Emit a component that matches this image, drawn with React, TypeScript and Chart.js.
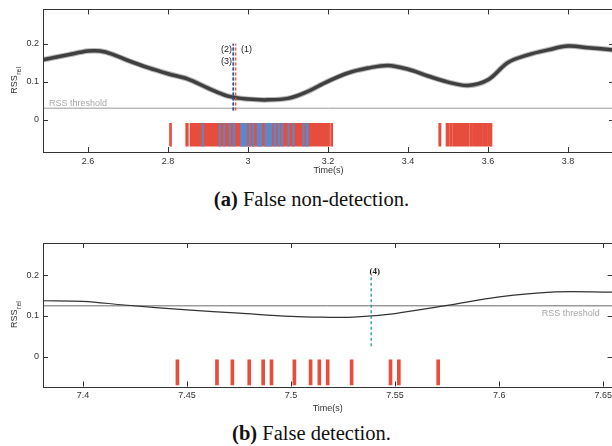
import React, { useEffect, useRef } from "react";
import { Chart, registerables } from "chart.js";
Chart.register(...registerables);

const SANS = "'Liberation Sans', Arial, Helvetica, sans-serif";
const SERIF = "'Liberation Serif', 'Times New Roman', serif";

// ---------- (a) False non-detection ----------
const TOP_TIME = [2.4875, 2.55, 2.6, 2.63, 2.66, 2.7, 2.75, 2.8, 2.85, 2.9, 2.95, 3.0, 3.05, 3.1, 3.1425, 3.2, 3.25, 3.3, 3.35, 3.4, 3.45, 3.5, 3.55, 3.6, 3.65, 3.7, 3.75, 3.8, 3.85, 3.915];
const TOP_RSS = [0.158, 0.171, 0.181, 0.181, 0.173, 0.156, 0.137, 0.121, 0.107, 0.083, 0.062, 0.054, 0.052, 0.056, 0.071, 0.101, 0.123, 0.136, 0.143, 0.133, 0.115, 0.099, 0.09, 0.105, 0.151, 0.171, 0.184, 0.194, 0.19, 0.184];
const TOP_THRESHOLD = 0.03;
const TOP_RED_SPANS: [number, number][] = [
  [2.8038, 2.8088], [2.8443, 2.8508], [2.855, 3.204], [3.2065, 3.2118],
  [3.4768, 3.4825], [3.495, 3.5025], [3.504, 3.511], [3.5125, 3.5193], [3.5208, 3.5528],
  [3.5543, 3.5595], [3.561, 3.5845], [3.586, 3.597], [3.5985, 3.61],
];
const TOP_BLUE_SPANS: [number, number][] = [
  [2.885, 2.8888], [2.9275, 2.9313], [2.9388, 2.9425], [2.9525, 2.9563], [2.9625, 2.9675],
  [2.9813, 2.9975], [3.0025, 3.0063], [3.0113, 3.015], [3.0225, 3.035], [3.0425, 3.06],
  [3.065, 3.07], [3.075, 3.08], [3.0838, 3.0875], [3.0993, 3.1033], [3.1118, 3.1158],
  [3.1368, 3.1408], [3.145, 3.1508],
];
const TOP_MARKER_TIMES = [2.9693, 2.9625, 2.9638]; // (1), (2), (3)
const TOP_MARKER_RANGE = [0.024, 0.2];
const TOP_X_TICKS = [2.6, 2.8, 3, 3.2, 3.4, 3.6, 3.8];
const TOP_X_LABELS = ["2.6", "2.8", "3", "3.2", "3.4", "3.6", "3.8"];
const Y_TICKS = [0, 0.1, 0.2];
const Y_LABELS = ["0", "0.1", "0.2"];

// ---------- (b) False detection ----------
const BOT_TIME = [7.3808, 7.4, 7.42, 7.45, 7.475, 7.5, 7.515, 7.53, 7.55, 7.575, 7.6, 7.625, 7.6545];
const BOT_RSS = [0.1375, 0.136, 0.127, 0.115, 0.107, 0.099, 0.097, 0.097, 0.106, 0.126, 0.147, 0.159, 0.159];
const BOT_THRESHOLD = 0.125;
const BOT_EVENTS = [7.4454, 7.4644, 7.4718, 7.4799, 7.4866, 7.4906, 7.5016, 7.5094, 7.5136, 7.5176, 7.5291, 7.5478, 7.5518, 7.5707];
const BOT_MARKER_TIME = 7.5385; // (4)
const BOT_MARKER_RANGE = [0.025, 0.198];
const BOT_X_TICKS = [7.4, 7.45, 7.5, 7.55, 7.6, 7.65];
const BOT_X_LABELS = ["7.4", "7.45", "7.5", "7.55", "7.6", "7.65"];

const RED = "#e64d3c";
const BLUE = "#5f87c6";
const AXIS = "#333333";

type Txt = { x: number; y: number; text: string; align: CanvasTextAlign; base: CanvasTextBaseline; color: string; font: string; dy?: number };

function decorPlugin(texts: Txt[]) {
  return {
    id: "decor",
    afterDatasetsDraw(chart: any) {
      const { ctx, chartArea: a, scales } = chart;
      const xs = scales.x, ys = scales.y;
      ctx.save();
      ctx.strokeStyle = AXIS;
      ctx.lineWidth = 1;
      ctx.strokeRect(Math.round(a.left) + 0.5, Math.round(a.top) + 0.5, Math.round(a.right - a.left), Math.round(a.bottom - a.top));
      const L = 5;
      ctx.beginPath();
      xs.ticks.forEach((t: any) => {
        const p = Math.round(xs.getPixelForValue(t.value)) + 0.5;
        ctx.moveTo(p, a.bottom); ctx.lineTo(p, a.bottom - L);
        ctx.moveTo(p, a.top); ctx.lineTo(p, a.top + L);
      });
      ys.ticks.forEach((t: any) => {
        const p = Math.round(ys.getPixelForValue(t.value)) + 0.5;
        ctx.moveTo(a.left, p); ctx.lineTo(a.left + L, p);
        ctx.moveTo(a.right, p); ctx.lineTo(a.right - L, p);
      });
      ctx.stroke();
      texts.forEach((t) => {
        ctx.font = t.font;
        ctx.fillStyle = t.color;
        ctx.textAlign = t.align;
        ctx.textBaseline = t.base;
        ctx.fillText(t.text, xs.getPixelForValue(t.x), ys.getPixelForValue(t.y) + (t.dy || 0));
      });
      // y label RSS_rel
      const cy = (a.top + a.bottom) / 2;
      ctx.translate(17, cy);
      ctx.rotate(-Math.PI / 2);
      ctx.fillStyle = AXIS;
      ctx.textAlign = "left";
      ctx.textBaseline = "alphabetic";
      ctx.font = `9px ${SANS}`;
      const w1 = ctx.measureText("RSS").width;
      ctx.font = `7px ${SANS}`;
      const w2 = ctx.measureText("rel").width;
      const s = -(w1 + w2) / 2;
      ctx.font = `9px ${SANS}`;
      ctx.fillText("RSS", s, 0);
      ctx.font = `7px ${SANS}`;
      ctx.fillText("rel", s + w1 + 0.5, 4);
      ctx.restore();
    },
  };
}

function scalesCfg(xMin: number, xMax: number, xTicks: number[], xLabels: string[], yMin: number, yMax: number, xAxisH: number, titlePad: number) {
  return {
    x: {
      type: "linear", min: xMin, max: xMax, offset: false,
      grid: { display: false, drawTicks: false }, border: { display: false },
      afterBuildTicks: (s: any) => { s.ticks = xTicks.map((v) => ({ value: v })); },
      afterFit: (s: any) => { s.height = xAxisH; },
      ticks: { padding: 4, color: AXIS, font: { family: SANS, size: 9 }, maxRotation: 0, autoSkip: false, callback: (_v: any, i: number) => xLabels[i] },
      title: { display: true, text: "Time(s)", color: AXIS, font: { family: SANS, size: 9 }, padding: { top: 0, bottom: titlePad } },
    },
    y: {
      type: "linear", min: yMin, max: yMax, offset: false,
      grid: { display: false, drawTicks: false }, border: { display: false },
      afterBuildTicks: (s: any) => { s.ticks = Y_TICKS.map((v) => ({ value: v })); },
      afterFit: (s: any) => { s.width = 43; },
      ticks: { padding: 4, color: AXIS, font: { family: SANS, size: 9 }, callback: (_v: any, i: number) => Y_LABELS[i] },
    },
  };
}

const line = (data: any[], color: string, width: number, extra: any = {}) => ({
  type: "line", data, borderColor: color, borderWidth: width, pointRadius: 0, fill: false, ...extra,
});

function topConfig(): any {
  const xMin = 2.4875, xMax = 3.915;
  const curve = TOP_TIME.map((t, i) => ({ x: t, y: TOP_RSS[i] }));
  const markerColors = ["#e0553a", "#3b5bb5", "#25337a"];
  const markers = TOP_MARKER_TIMES.map((t, i) =>
    line([{ x: t, y: TOP_MARKER_RANGE[0] }, { x: t, y: TOP_MARKER_RANGE[1] }], markerColors[i], 1.3, { borderDash: [3, 2], order: -1 })
  );
  return {
    type: "line",
    data: {
      datasets: [
        line([{ x: xMin, y: TOP_THRESHOLD }, { x: xMax, y: TOP_THRESHOLD }], "#9a9a9a", 1, { order: 5 }),
        line(curve, "rgba(110,110,110,0.5)", 5.5, { tension: 0.35, order: 1 }),
        line(curve, "#3f3f3f", 3.5, { tension: 0.35, order: 0 }),
        ...markers,
        { type: "bar", indexAxis: "y", grouped: false, barThickness: 23, borderWidth: 0, backgroundColor: BLUE, order: 2,
          data: TOP_BLUE_SPANS.map((s) => ({ x: s, y: -0.0402 })) },
        { type: "bar", indexAxis: "y", grouped: false, barThickness: 23, borderWidth: 0, backgroundColor: RED, order: 3,
          data: TOP_RED_SPANS.map((s) => ({ x: s, y: -0.0402 })) },
      ],
    },
    options: {
      responsive: false, animation: false, events: [],
      layout: { padding: { top: 7, right: 2, left: 0, bottom: 0 } },
      plugins: { legend: { display: false }, tooltip: { enabled: false } },
      scales: scalesCfg(xMin, xMax, TOP_X_TICKS, TOP_X_LABELS, -0.0857, 0.291, 33, 9),
    },
    plugins: [decorPlugin([
      { x: 2.5025, y: TOP_THRESHOLD, text: "RSS threshold", align: "left", base: "bottom", color: "#a8a8a8", font: `9px ${SANS}`, dy: 0 },
      { x: 2.96, y: 0.184, text: "(2)", align: "right", base: "middle", color: "#222", font: `9px ${SANS}` },
      { x: 2.96, y: 0.153, text: "(3)", align: "right", base: "middle", color: "#222", font: `9px ${SANS}` },
      { x: 2.9825, y: 0.184, text: "(1)", align: "left", base: "middle", color: "#222", font: `9px ${SANS}` },
    ])],
  };
}

function botConfig(): any {
  const xMin = 7.3808, xMax = 7.6545;
  const curve = BOT_TIME.map((t, i) => ({ x: t, y: BOT_RSS[i] }));
  return {
    type: "line",
    data: {
      datasets: [
        line([{ x: xMin, y: BOT_THRESHOLD }, { x: xMax, y: BOT_THRESHOLD }], "#6a6a6a", 1, { order: 5 }),
        line(curve, "#333333", 1.2, { tension: 0.35, order: 0 }),
        line([{ x: BOT_MARKER_TIME, y: BOT_MARKER_RANGE[0] }, { x: BOT_MARKER_TIME, y: BOT_MARKER_RANGE[1] }], "#1d9a8a", 1.3, { borderDash: [3, 2.5], order: -1 }),
        { type: "bar", grouped: false, barThickness: 3, borderWidth: 0, backgroundColor: RED, order: 3,
          data: BOT_EVENTS.map((t) => ({ x: t, y: [-0.07, -0.008] })) },
      ],
    },
    options: {
      responsive: false, animation: false, events: [],
      layout: { padding: { top: 13, right: 2, left: 0, bottom: 0 } },
      plugins: { legend: { display: false }, tooltip: { enabled: false } },
      scales: scalesCfg(xMin, xMax, BOT_X_TICKS, BOT_X_LABELS, -0.074, 0.28, 33.5, 6.3),
    },
    plugins: [decorPlugin([
      { x: 7.6483, y: BOT_THRESHOLD, text: "RSS threshold", align: "right", base: "top", color: "#a8a8a8", font: `9px ${SANS}`, dy: 3 },
      { x: BOT_MARKER_TIME - 0.0008, y: 0.209, text: "(4)", align: "left", base: "middle", color: "#222", font: `bold 9px ${SERIF}` },
    ])],
  };
}

function ChartCanvas({ make, top, height }: { make: () => any; top: number; height: number }) {
  const ref = useRef<HTMLCanvasElement>(null);
  useEffect(() => {
    if (!ref.current) return;
    const c = new Chart(ref.current, make());
    return () => c.destroy();
  }, []);
  return <canvas ref={ref} width={616} height={height} style={{ position: "absolute", left: 0, top, width: 616, height }} />;
}

const capStyle = (top: number): React.CSSProperties => ({
  position: "absolute", left: 311.5, top, transform: "translateX(-50%)", whiteSpace: "nowrap",
  fontFamily: SERIF, fontSize: 20.5, lineHeight: "21px", color: "#111",
});

export default function App() {
  return (
    <div style={{ position: "absolute", left: 0, top: 0, width: 612, height: 446, overflow: "hidden", background: "#fff" }}>
      <ChartCanvas make={topConfig} top={0} height={185} />
      <div style={capStyle(188.5)}><b>(a)</b> False non-detection.</div>
      <ChartCanvas make={botConfig} top={230} height={190} />
      <div style={capStyle(422.5)}><b>(b)</b> False detection.</div>
    </div>
  );
}
